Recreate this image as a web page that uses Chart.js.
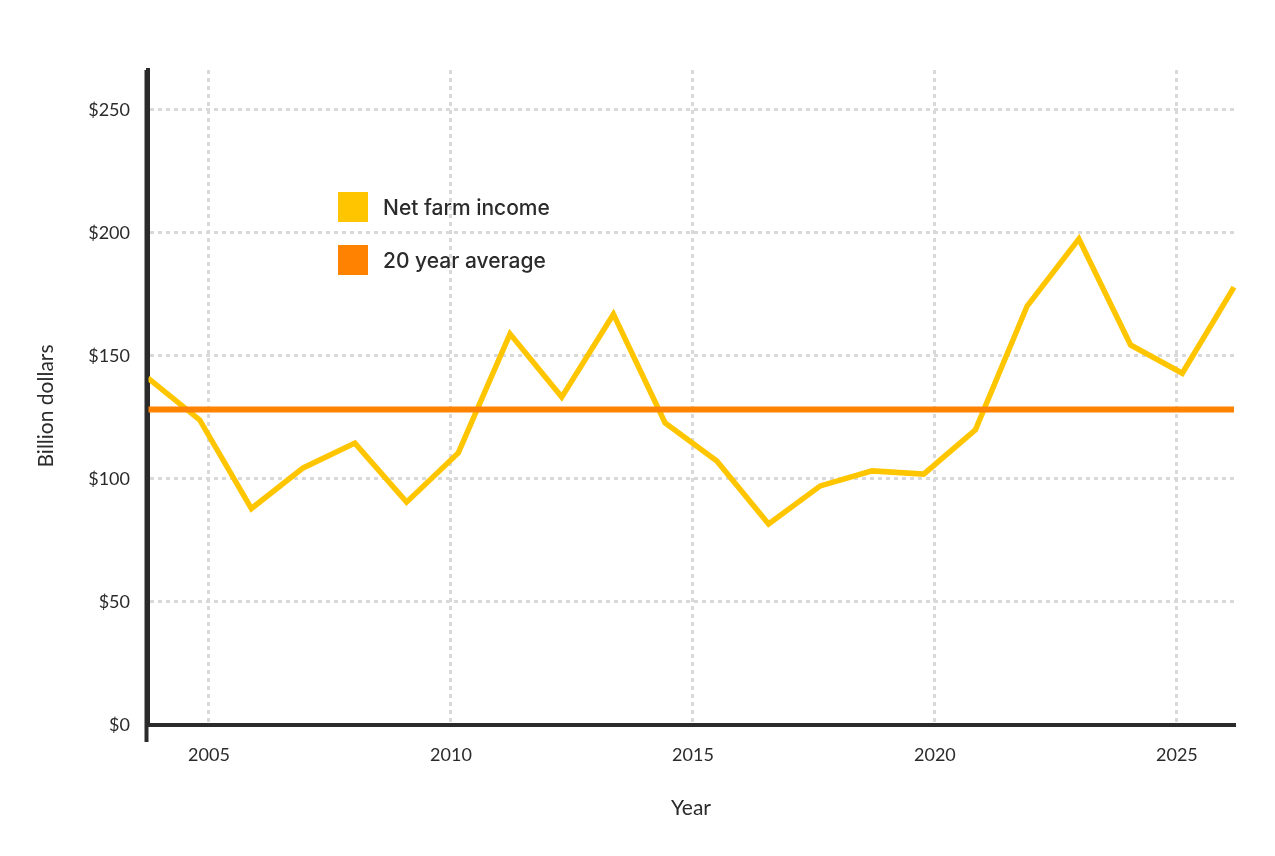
<!DOCTYPE html>
<html lang="en">
<head>
  <meta charset="UTF-8">
  <title>Net farm income</title>
  <style>
    * { margin: 0; padding: 0; box-sizing: border-box; }
    body { background: #fff; font-family: Lato, "Open Sans", sans-serif; color: #2b2b2b; }
    .wrap { position: relative; width: 1275px; height: 856px; }
    /* Legend sits inside the plot, top left */
    .legend { position: absolute; left: 338px; top: 192px; }
    .legend-item { display: flex; align-items: center; height: 30px; margin-bottom: 23px; }
    .legend-item span.box { width: 30px; height: 30px; margin-right: 15px; }
    .legend-item span.label { font-family: Inter, Lato, sans-serif; font-size: 21px; font-weight: 500; }
  </style>
  <script src="https://cdn.jsdelivr.net/npm/chart.js"></script>
</head>
<body>
  <div class="wrap">
    <canvas id="farmChart"></canvas>
    <div class="legend">
      <div class="legend-item"><span class="box" style="background:#FFC600"></span><span class="label">Net farm income</span></div>
      <div class="legend-item"><span class="box" style="background:#FF8200"></span><span class="label">20 year average</span></div>
    </div>
  </div>

  <script>
    // Data (billion dollars)
    const years = [2004, 2005, 2006, 2007, 2008, 2009, 2010, 2011, 2012, 2013, 2014,
                   2015, 2016, 2017, 2018, 2019, 2020, 2021, 2022, 2023, 2024, 2025];
    const netFarmIncome = [141, 124, 88, 104.5, 114.6, 90.6, 110.6, 159, 133.3, 167, 122.8,
                           107.3, 81.7, 97.2, 103.3, 102, 120, 170.3, 197.6, 154.5, 143, 178];
    const twentyYearAverage = 128.3;
    const yearTicks = [2005, 2010, 2015, 2020, 2025];
    const dollarTicks = [0, 50, 100, 150, 200, 250];

    const textColor = '#2b2b2b';
    const gridColor = '#d9d9d9';

    // Axis extension below zero + y axis title
    const axisExtras = {
      id: 'axisExtras',
      afterDraw(chart) {
        const { ctx, chartArea } = chart;
        ctx.save();
        ctx.strokeStyle = textColor;
        ctx.lineWidth = 4;
        ctx.beginPath();
        ctx.moveTo(chartArea.left - 1.5, chartArea.top);
        ctx.lineTo(chartArea.left - 1.5, chartArea.bottom + 17);
        ctx.stroke();

        ctx.translate(46, (chartArea.top + chartArea.bottom + 17) / 2);
        ctx.rotate(-Math.PI / 2);
        ctx.fillStyle = textColor;
        ctx.font = '21px Lato, "Open Sans", sans-serif';
        ctx.textAlign = 'center';
        ctx.textBaseline = 'middle';
        ctx.fillText('Billion dollars', 0, 0);
        ctx.restore();
      }
    };

    const ctx = document.getElementById('farmChart').getContext('2d');
    new Chart(ctx, {
      type: 'line',
      data: {
        labels: years,
        datasets: [
          {
            label: '20 year average',
            data: years.map(() => twentyYearAverage),
            borderColor: '#FF8200',
            borderWidth: 6,
            pointRadius: 0,
            order: 0
          },
          {
            label: 'Net farm income',
            data: netFarmIncome,
            borderColor: '#FFC600',
            borderWidth: 5.5,
            borderJoinStyle: 'miter',
            pointRadius: 0,
            tension: 0,
            order: 1
          }
        ]
      },
      options: {
        responsive: true,
        maintainAspectRatio: false,
        animation: false,
        layout: { padding: { top: 70, right: 41, left: 0, bottom: 0 } },
        plugins: { legend: { display: false }, tooltip: { enabled: false } },
        scales: {
          x: { type: 'category', display: false, offset: false },
          xYear: {
            type: 'linear',
            position: 'bottom',
            min: 2003.74,
            max: 2026.18,
            afterBuildTicks: axis => { axis.ticks = yearTicks.map(v => ({ value: v })); },
            afterFit: axis => { axis.height = 131; },
            grid: { color: gridColor, lineWidth: 3, drawTicks: false },
            border: { display: true, color: textColor, width: 4, dash: [4, 4] },
            ticks: {
              padding: 19,
              color: textColor,
              font: { family: 'Lato, "Open Sans", sans-serif', size: 18 },
              callback: v => String(v)
            },
            title: {
              display: true,
              text: 'Year',
              color: textColor,
              font: { family: 'Lato, "Open Sans", sans-serif', size: 21 },
              padding: { top: 0, bottom: 35 }
            }
          },
          y: {
            min: 0,
            max: 266.26,
            afterBuildTicks: axis => { axis.ticks = dollarTicks.map(v => ({ value: v })); },
            afterFit: axis => { axis.width = 148; },
            grid: { color: gridColor, lineWidth: 3, drawTicks: false },
            border: { display: true, color: textColor, width: 4, dash: [4, 4] },
            ticks: {
              padding: 18,
              color: textColor,
              font: { family: 'Lato, "Open Sans", sans-serif', size: 18 },
              callback: v => '$' + v
            }
          }
        }
      },
      plugins: [axisExtras]
    });
  </script>
</body>
</html>
